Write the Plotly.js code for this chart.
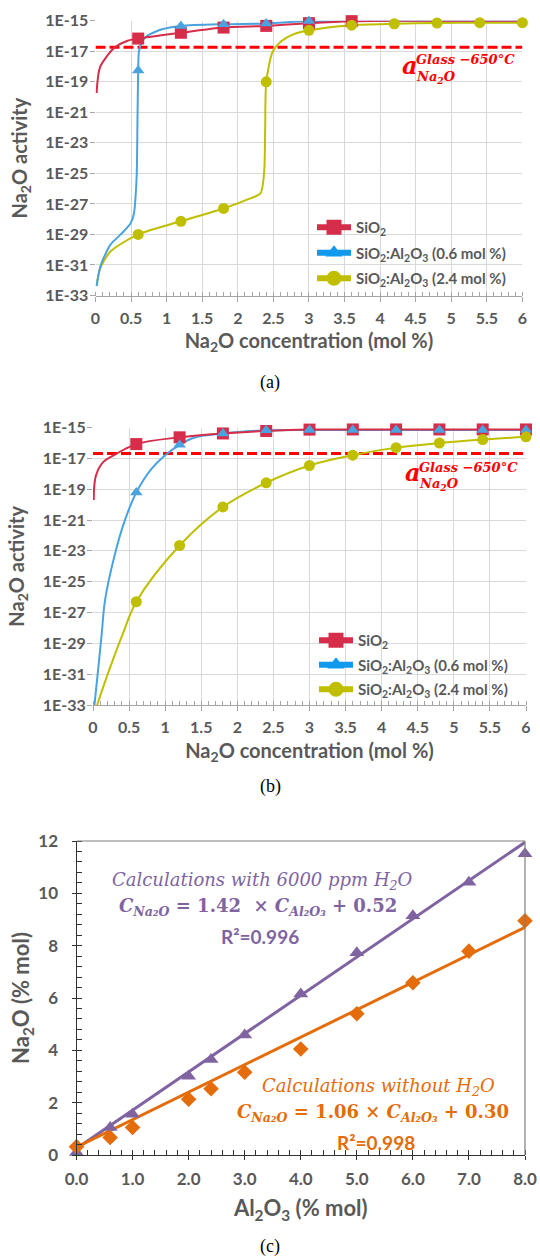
<!DOCTYPE html>
<html><head><meta charset="utf-8">
<script src="https://cdn.plot.ly/plotly-3.0.1.min.js"></script>
<style>html,body{margin:0;padding:0;background:#fff}#chart{width:540px;height:1257px}</style>
</head><body><div id="chart"></div>
<script>
// ---------- DATA ----------
// Panels (a) and (b): Na2O activity, stored as log10 values
const markX = [0.6, 1.2, 1.8, 2.4, 3.0, 3.6, 4.2, 4.8, 5.4, 6.0];
const yTickExp = [-15, -17, -19, -21, -23, -25, -27, -29, -31, -33];
const yTickLabels = ['1E-15', '1E-17', '1E-19', '1E-21', '1E-23', '1E-25', '1E-27', '1E-29', '1E-31', '1E-33'];
const seriesNames = ['SiO<sub>2</sub>', 'SiO<sub>2</sub>:Al<sub>2</sub>O<sub>3</sub> (0.6 mol %)', 'SiO<sub>2</sub>:Al<sub>2</sub>O<sub>3</sub> (2.4 mol %)'];

// (a)
const aRedLineX = [0.015, 0.063, 0.257, 0.45, 0.6, 0.9, 1.2, 1.8, 2.4, 3.0, 3.6, 4.2, 4.8, 5.4, 6.0];
const aRedLineLog = [-19.74, -18.05, -16.81, -16.31, -16.17, -15.97, -15.79, -15.45, -15.34, -15.16, -15.03, -15.0, -15.0, -15.0, -15.0];
const aRedMarkLog = [-16.17, -15.79, -15.45, -15.34, -15.16, -15.03, -15.0, -15.0, -15.0, -15.0];
const aBlueLineX = [0.015, 0.073, 0.21, 0.354, 0.49, 0.54, 0.56, 0.58, 0.59, 0.6, 0.61, 0.645, 0.717, 0.935, 1.2, 1.8, 2.4, 3.0, 3.6, 4.2, 4.8, 5.4, 6.0];
const aBlueLineLog = [-32.38, -31.03, -29.67, -29.0, -28.3, -27.64, -26.74, -25.0, -21.5, -18.27, -17.03, -16.47, -16.02, -15.56, -15.34, -15.23, -15.18, -15.02, -15.0, -15.0, -15.0, -15.0, -15.0];
const aBlueMarkLog = [-18.27, -15.34, -15.23, -15.18, -15.02, -15.0, -15.0, -15.0, -15.0, -15.0];
const aYelLineX = [0.015, 0.063, 0.21, 0.6, 1.2, 1.8, 2.12, 2.32, 2.37, 2.385, 2.4, 2.49, 2.61, 2.78, 3.0, 3.6, 4.2, 4.8, 5.4, 6.0];
const aYelLineLog = [-32.38, -31.25, -30.12, -29.0, -28.14, -27.3, -26.74, -26.29, -24.93, -22.0, -19.0, -17.03, -16.35, -15.9, -15.63, -15.29, -15.2, -15.15, -15.13, -15.13];
const aYelMarkLog = [-29.0, -28.14, -27.3, -19.0, -15.63, -15.29, -15.2, -15.15, -15.13, -15.13];
const aThreshLog = -16.74;

// (b)
const bRedLineX = [0.01, 0.04, 0.14, 0.29, 0.6, 1.2, 1.8, 2.4, 3.0, 3.6, 4.2, 4.8, 5.4, 6.0];
const bRedLineLog = [-19.7, -18.13, -17.24, -16.79, -16.07, -15.63, -15.38, -15.22, -15.13, -15.12, -15.12, -15.12, -15.12, -15.12];
const bRedMarkLog = [-16.07, -15.63, -15.38, -15.22, -15.13, -15.12, -15.12, -15.12, -15.12, -15.12];
const bBlueLineX = [0.02, 0.072, 0.12, 0.167, 0.3, 0.44, 0.6, 0.81, 1.0, 1.2, 1.39, 1.8, 2.4, 3.0, 3.6, 4.2, 4.8, 5.4, 6.0];
const bBlueLineLog = [-33.0, -30.66, -28.42, -26.19, -23.28, -21.04, -19.21, -17.68, -16.79, -16.12, -15.67, -15.38, -15.18, -15.15, -15.15, -15.15, -15.15, -15.15, -15.15];
const bBlueMarkLog = [-19.21, -16.12, -15.38, -15.18, -15.15, -15.15, -15.15, -15.15, -15.15, -15.15];
const bYelLineX = [0.057, 0.23, 0.41, 0.6, 1.2, 1.8, 2.4, 3.0, 3.6, 4.2, 4.8, 5.4, 6.0];
const bYelLineLog = [-33.0, -30.66, -28.42, -26.3, -22.65, -20.15, -18.58, -17.46, -16.79, -16.3, -16.0, -15.78, -15.6];
const bYelMarkLog = [-26.3, -22.65, -20.15, -18.58, -17.46, -16.79, -16.3, -16.0, -15.78, -15.6];
const bThreshLog = -16.68;

// (c)
const alX = [0, 0.6, 1, 2, 2.4, 3, 4, 5, 6, 7, 8];
const naWithH2O = [0.1, 1.05, 1.56, 3.01, 3.65, 4.59, 6.15, 7.73, 9.14, 10.42, 11.51];
const naWithoutH2O = [0.32, 0.67, 1.05, 2.13, 2.53, 3.16, 4.05, 5.40, 6.58, 7.79, 8.95];
const fitX = [0, 8];
const fitWithH2O = [0.25, 11.95];
const fitWithoutH2O = [0.3, 8.7];

// ---------- STYLE / LAYOUT ----------
const W = 540, H = 1257;
const px = v => v / W;
const py = v => 1 - v / H;
const pw = v => Math.pow(10, v);

const RED = '#d52d4a', BLUE = '#4aa3df', YEL = '#bfbf00';
const LRED = '#d52d4a', LBLUE = '#1199ee', LYEL = '#bfbf00';
const PURPLE = '#8064a2', ORANGE = '#e46c0a';
const GRAY = '#595959';
const SANS = 'Lato';
const SERIF = 'DejaVu Serif';
const CAP = 'Liberation Serif';

function lineTr(xs, logs, color, xa, ya, sm) {
  return {x: xs, y: logs.map(pw), mode: 'lines', line: {color: color, width: 2, shape: 'spline', smoothing: sm},
    xaxis: xa, yaxis: ya, showlegend: false, hoverinfo: 'skip', cliponaxis: false};
}
function markTr(logs, color, symbol, size, xa, ya) {
  return {x: markX, y: logs.map(pw), mode: 'markers', marker: {color: color, symbol: symbol, size: size},
    xaxis: xa, yaxis: ya, showlegend: false, hoverinfo: 'skip', cliponaxis: false};
}
function legTr(name, color, symbol, leg, grp, xa, ya) {
  return {x: [null], y: [null], mode: 'lines+markers', name: name, line: {color: color, width: 6},
    marker: {color: color, symbol: symbol, size: 15}, legend: leg, legendgroup: grp, xaxis: xa, yaxis: ya};
}
function threshTr(v, xa, ya) {
  return {x: [0, 6], y: [pw(v), pw(v)], mode: 'lines', line: {color: '#ff0000', width: 3, dash: '10px,4px'},
    xaxis: xa, yaxis: ya, showlegend: false, hoverinfo: 'skip'};
}

const traces = [
  threshTr(aThreshLog, 'x', 'y'),
  lineTr(aYelLineX, aYelLineLog, YEL, 'x', 'y', 0.7),
  lineTr(aBlueLineX, aBlueLineLog, BLUE, 'x', 'y', 0.7),
  lineTr(aRedLineX, aRedLineLog, RED, 'x', 'y', 0.7),
  markTr(aRedMarkLog, RED, 'square', 12, 'x', 'y'),
  markTr(aBlueMarkLog, BLUE, 'triangle-up', 11, 'x', 'y'),
  markTr(aYelMarkLog, YEL, 'circle', 11, 'x', 'y'),
  legTr(seriesNames[0], LRED, 'square', 'legend', 'a1', 'x', 'y'),
  legTr(seriesNames[1], LBLUE, 'triangle-up', 'legend', 'a2', 'x', 'y'),
  legTr(seriesNames[2], LYEL, 'circle', 'legend', 'a3', 'x', 'y'),

  threshTr(bThreshLog, 'x2', 'y2'),
  lineTr(bYelLineX, bYelLineLog, YEL, 'x2', 'y2', 1),
  lineTr(bBlueLineX, bBlueLineLog, BLUE, 'x2', 'y2', 1),
  lineTr(bRedLineX, bRedLineLog, RED, 'x2', 'y2', 1),
  markTr(bRedMarkLog, RED, 'square', 12, 'x2', 'y2'),
  markTr(bBlueMarkLog, BLUE, 'triangle-up', 11, 'x2', 'y2'),
  markTr(bYelMarkLog, YEL, 'circle', 11, 'x2', 'y2'),
  legTr(seriesNames[0], LRED, 'square', 'legend2', 'b1', 'x2', 'y2'),
  legTr(seriesNames[1], LBLUE, 'triangle-up', 'legend2', 'b2', 'x2', 'y2'),
  legTr(seriesNames[2], LYEL, 'circle', 'legend2', 'b3', 'x2', 'y2'),

  {x: fitX, y: fitWithH2O, mode: 'lines', line: {color: PURPLE, width: 3}, xaxis: 'x3', yaxis: 'y3', showlegend: false, hoverinfo: 'skip'},
  {x: fitX, y: fitWithoutH2O, mode: 'lines', line: {color: ORANGE, width: 3}, xaxis: 'x3', yaxis: 'y3', showlegend: false, hoverinfo: 'skip'},
  {x: alX, y: naWithH2O, mode: 'markers', marker: {color: PURPLE, symbol: 'triangle-up', size: 13}, xaxis: 'x3', yaxis: 'y3', showlegend: false, hoverinfo: 'skip', cliponaxis: false},
  {x: alX, y: naWithoutH2O, mode: 'markers', marker: {color: ORANGE, symbol: 'diamond', size: 12}, xaxis: 'x3', yaxis: 'y3', showlegend: false, hoverinfo: 'skip', cliponaxis: false}
];

const tickFont = {family: SANS, size: 16, color: GRAY, weight: 'bold'};
const titleFont = {family: SANS, size: 20, color: GRAY, weight: 'bold'};
const tickFontC = {family: SANS, size: 17, color: GRAY, weight: 'bold'};
const titleFontC = {family: SANS, size: 22, color: GRAY, weight: 'bold'};

function actX(dom, anchor) {
  return {domain: dom, anchor: anchor, range: [0, 6], dtick: 0.5, tick0: 0, showgrid: true, gridcolor: '#d9d9d9', gridwidth: 1,
    zeroline: false, showline: true, linecolor: '#a6a6a6', linewidth: 1, ticks: 'outside', ticklen: 5, tickcolor: '#a6a6a6',
    minor: {dtick: 0.1, tick0: 0, ticks: 'inside', ticklen: 4, tickcolor: '#a6a6a6', showgrid: false},
    ticklabelstandoff: 3,
    tickfont: tickFont, title: {text: 'Na<sub>2</sub>O concentration (mol %)', font: titleFont, standoff: 8}, fixedrange: true};
}
function actY(dom, anchor) {
  return {domain: dom, anchor: anchor, type: 'log', range: [-33, -15], tickvals: yTickExp.map(pw), ticktext: yTickLabels,
    showgrid: true, gridcolor: '#d9d9d9', gridwidth: 1, zeroline: false, showline: false, ticks: 'outside', ticklen: 5,
    tickcolor: '#a6a6a6', ticklabelstandoff: -2, tickfont: tickFont,
    title: {text: 'Na<sub>2</sub>O activity', font: titleFont, standoff: 12}, fixedrange: true};
}

function glassLabel(xl, ya, ysup, ysub) {
  const f = {family: SERIF, color: '#ff0000', weight: 'bold', style: 'italic'};
  return [
    {xref: 'paper', yref: 'paper', x: px(xl), y: py(ya), xanchor: 'left', yanchor: 'middle', showarrow: false,
      text: '<b><i>a</i></b>', font: Object.assign({}, f, {size: 24})},
    {xref: 'paper', yref: 'paper', x: px(xl + 14), y: py(ysup), xanchor: 'left', yanchor: 'middle', showarrow: false,
      text: '<b><i>Glass −650°C</i></b>', font: Object.assign({}, f, {size: 13})},
    {xref: 'paper', yref: 'paper', x: px(xl + 14), y: py(ysub), xanchor: 'left', yanchor: 'middle', showarrow: false,
      text: '<b><i>Na<sub>2</sub>O</i></b>', font: Object.assign({}, f, {size: 13})}
  ];
}

const legendBase = {xanchor: 'left', yanchor: 'top', bgcolor: 'rgba(0,0,0,0)', traceorder: 'grouped', tracegroupgap: 3,
  itemwidth: 34, font: {family: SANS, size: 15, color: GRAY, weight: 'bold'}, itemclick: false, itemdoubleclick: false};

const annotations = [].concat(
  glassLabel(400, 66, 60, 78),
  glassLabel(403, 473, 467, 484),
  [
    {xref: 'paper', yref: 'paper', x: px(270), y: py(382), xanchor: 'center', yanchor: 'middle', showarrow: false,
      text: '(a)', font: {family: CAP, size: 18, color: '#000'}},
    {xref: 'paper', yref: 'paper', x: px(270), y: py(786), xanchor: 'center', yanchor: 'middle', showarrow: false,
      text: '(b)', font: {family: CAP, size: 18, color: '#000'}},
    {xref: 'paper', yref: 'paper', x: px(270), y: py(1246), xanchor: 'center', yanchor: 'middle', showarrow: false,
      text: '(c)', font: {family: CAP, size: 18, color: '#000'}},
    {xref: 'paper', yref: 'paper', x: px(262), y: py(881), xanchor: 'center', yanchor: 'middle', showarrow: false,
      text: '<i>Calculations with 6000 ppm H<sub>2</sub>O</i>', font: {family: SERIF, size: 18, color: PURPLE}},
    {xref: 'paper', yref: 'paper', x: px(258), y: py(907), xanchor: 'center', yanchor: 'middle', showarrow: false,
      text: '<b><i>C</i><sub><i>Na₂O</i></sub> = 1.42  × <i>C</i><sub><i>Al₂O₃</i></sub> + 0.52</b>', font: {family: SERIF, size: 18, color: PURPLE}},
    {xref: 'paper', yref: 'paper', x: px(260), y: py(936), xanchor: 'center', yanchor: 'middle', showarrow: false,
      text: '<b>R²=0.996</b>', font: {family: SANS, size: 19, color: PURPLE}},
    {xref: 'paper', yref: 'paper', x: px(378), y: py(1087), xanchor: 'center', yanchor: 'middle', showarrow: false,
      text: '<i>Calculations without H<sub>2</sub>O</i>', font: {family: SERIF, size: 18, color: ORANGE}},
    {xref: 'paper', yref: 'paper', x: px(373), y: py(1113), xanchor: 'center', yanchor: 'middle', showarrow: false,
      text: '<b><i>C</i><sub><i>Na₂O</i></sub> = 1.06 × <i>C</i><sub><i>Al₂O₃</i></sub> + 0.30</b>', font: {family: SERIF, size: 18, color: ORANGE}},
    {xref: 'paper', yref: 'paper', x: px(376), y: py(1142), xanchor: 'center', yanchor: 'middle', showarrow: false,
      text: '<b>R²=0.998</b>', font: {family: SANS, size: 19, color: ORANGE}}
  ]
);

const layout = {
  width: W, height: H, margin: {l: 0, r: 0, t: 0, b: 0}, paper_bgcolor: '#fff', plot_bgcolor: '#fff',
  showlegend: true,
  xaxis: actX([px(95.5), px(522.4)], 'y'),
  yaxis: actY([py(295.5), py(20.7)], 'x'),
  xaxis2: actX([px(93), px(526)], 'y2'),
  yaxis2: actY([py(705), py(427.6)], 'x2'),
  xaxis3: {domain: [px(76.5), px(525)], anchor: 'y3', range: [0, 8], dtick: 1, tick0: 0, tickformat: '.1f', showgrid: false,
    zeroline: false, showline: true, linecolor: '#333', linewidth: 1, ticks: 'outside', ticklen: 4, tickcolor: '#333',
    minor: {dtick: 0.2, tick0: 0, ticks: 'inside', ticklen: 5, tickcolor: '#333', showgrid: false},
    ticklabelstandoff: 5,
    tickfont: tickFontC, title: {text: 'Al<sub>2</sub>O<sub>3</sub> (% mol)', font: titleFontC, standoff: 12}, fixedrange: true},
  yaxis3: {domain: [py(1155), py(841)], anchor: 'x3', range: [0, 12], dtick: 2, tick0: 0, showgrid: false,
    zeroline: false, showline: true, linecolor: '#333', linewidth: 1, ticks: 'outside', ticklen: 4, tickcolor: '#333',
    minor: {dtick: 0.4, tick0: 0, ticks: 'inside', ticklen: 5, tickcolor: '#333', showgrid: false},
    ticklabelstandoff: 10,
    tickfont: tickFontC, title: {text: 'Na<sub>2</sub>O (% mol)', font: titleFontC, standoff: 2}, fixedrange: true},
  legend: Object.assign({}, legendBase, {x: px(312), y: py(211)}),
  legend2: Object.assign({}, legendBase, {x: px(314), y: py(624), tracegroupgap: 2}),
  shapes: [
    {type: 'line', xref: 'x3 domain', yref: 'y3 domain', x0: 0, x1: 1, y0: 1, y1: 1, line: {color: '#7f7f7f', width: 1.2}},
    {type: 'line', xref: 'x3 domain', yref: 'y3 domain', x0: 1, x1: 1, y0: 0, y1: 1, line: {color: '#7f7f7f', width: 1.2}}
  ],
  annotations: annotations
};

Plotly.newPlot('chart', traces, layout, {displayModeBar: false}).then(function (gd) {
  // mirror each text's CSS font size into an explicit attribute
  gd.querySelectorAll('svg text').forEach(function (t) {
    var fs = t.style.fontSize || window.getComputedStyle(t).fontSize;
    if (fs) t.setAttribute('font-size', fs);
  });
});
</script></body></html>
